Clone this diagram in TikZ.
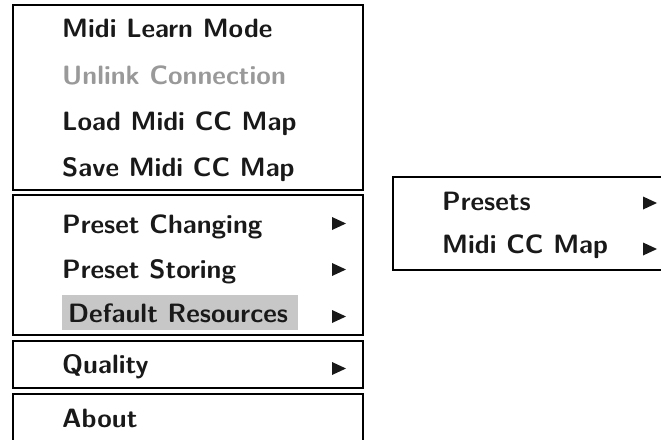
\documentclass[tikz,border=0pt]{standalone}
\usepackage{fontspec}
\begin{document}
\begin{tikzpicture}[x=1pt,y=-1pt,
  frame/.style={draw=black,line width=2pt},
  item/.style={anchor=base west,inner sep=0pt,font=\fontsize{26.5}{30}\selectfont\sffamily\bfseries,text=black!90},
  disabled/.style={item,text=black!40},
  hilite/.style={fill=black!22,draw=none},
  submark/.style={fill=black!90,draw=none}]
\useasboundingbox (0,0) rectangle (661,439);
\clip (0,0) rectangle (661,439);
% menu frames
\draw[frame] (13,5) rectangle (363,190);
\draw[frame] (13,195) rectangle (363,335);
\draw[frame] (13,341) rectangle (363,388);
\draw[frame] (13,450) -- (13,394) -- (363,394) -- (363,450);
\draw[frame] (670,177) -- (393,177) -- (393,270) -- (670,270);
% highlighted entry
\fill[hilite] (62,295) rectangle (298,330);
% first group
\node[item] (learn) at (62,37) {Midi Learn Mode};
\node[disabled] (unlink) at (62,84) {Unlink Connection};
\node[item] (load) at (62,130) {Load Midi CC Map};
\node[item] (save) at (62,176) {Save Midi CC Map};
% second group
\node[item] (change) at (62,233) {Preset Changing};
\node[item] (store) at (62,278) {Preset Storing};
\node[item] (defres) at (68,322) {Default Resources};
% third and fourth groups
\node[item] (quality) at (62,373) {Quality};
\node[item] (about) at (62,427) {About};
% submenu
\node[item] (presets) at (442,210) {Presets};
\node[item] (ccmap) at (442,253) {Midi CC Map};
% submenu marks
\foreach \x/\y in {332/223.5, 332/269.5, 332/316.5, 332/368.5, 643/203, 643/249}
  \fill[submark] (\x,\y-6.5) -- (\x+14,\y) -- (\x,\y+6.5) -- cycle;
\end{tikzpicture}
\end{document}
